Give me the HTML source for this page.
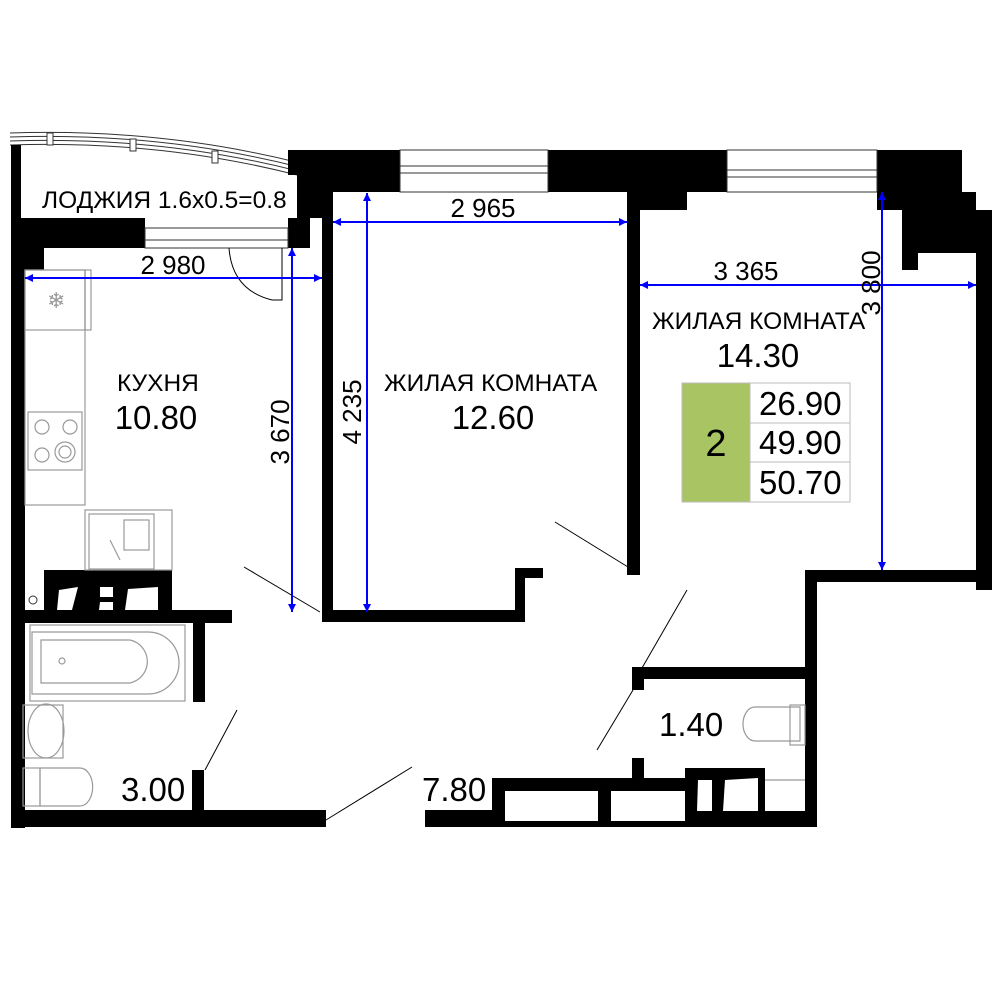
<!DOCTYPE html>
<html><head><meta charset="utf-8"><style>
body{margin:0;background:#fff}
svg{display:block}
text{font-family:"Liberation Sans",sans-serif;fill:#000}
</style></head><body>
<svg width="1000" height="1000" viewBox="0 0 1000 1000" xmlns="http://www.w3.org/2000/svg">
<defs>
<marker id="a" viewBox="0 0 10 10" refX="10" refY="5" markerWidth="14" markerHeight="8" markerUnits="userSpaceOnUse" orient="auto-start-reverse"><path d="M0,0L10,5L0,10z" fill="#00f"/></marker>
</defs>
<g fill="none" stroke="#333" stroke-width="1">
<path d="M10,133 Q160,128 300,163"/>
<path d="M10,137 Q160,132 299,167"/>
<path d="M10,141 Q160,136 298,171"/>
<path d="M10,145 Q160,140 297,175"/>
</g>
<g fill="#fff" stroke="#333" stroke-width="1">
<rect x="47" y="133" width="6" height="12"/><rect x="130" y="139" width="6" height="12"/><rect x="212" y="151" width="6" height="12"/>
</g>
<g fill="#000">
<rect x="11" y="145" width="10" height="80"/>
<rect x="11" y="218" width="134" height="30"/>
<rect x="11" y="248" width="33" height="22"/>
<rect x="11" y="248" width="14" height="580"/>
<rect x="288" y="150" width="42" height="25"/>
<rect x="297" y="175" width="33" height="43"/>
<rect x="288" y="218" width="22" height="30"/>
<rect x="308" y="150" width="92" height="42"/>
<rect x="548" y="150" width="179" height="42"/>
<rect x="627" y="192" width="60" height="18"/>
<rect x="877" y="150" width="85" height="60"/>
<rect x="902" y="192" width="74" height="61"/>
<rect x="902" y="253" width="16" height="17"/>
<rect x="962" y="210" width="30" height="43"/>
<rect x="976" y="210" width="16" height="380"/>
<rect x="322" y="192" width="11" height="430"/>
<rect x="322" y="610" width="203" height="12"/>
<rect x="515" y="568" width="10" height="54"/>
<rect x="515" y="568" width="28" height="10"/>
<rect x="627" y="210" width="13" height="365"/>
<rect x="805" y="570" width="187" height="12"/>
<rect x="805" y="570" width="12" height="257"/>
<rect x="632" y="667" width="180" height="12"/>
<rect x="632" y="667" width="12" height="23"/>
<rect x="632" y="758" width="12" height="20"/>
<rect x="11" y="810" width="315" height="17"/>
<rect x="425" y="810" width="70" height="17"/>
<rect x="492" y="778" width="193" height="13"/>
<rect x="492" y="778" width="13" height="49"/>
<rect x="492" y="821" width="325" height="6"/>
<rect x="598" y="778" width="13" height="49"/>
<rect x="685" y="768" width="80" height="59"/>
<rect x="765" y="811" width="52" height="16"/>
<rect x="44" y="570" width="128" height="40"/>
<rect x="25" y="610" width="207" height="13"/>
<rect x="193" y="623" width="12" height="79"/>
<rect x="192" y="770" width="12" height="45"/>
</g>
<g fill="#fff" stroke="#333" stroke-width="1">
<rect x="400" y="150" width="148" height="42"/>
<line x1="400" y1="166" x2="548" y2="166"/><line x1="400" y1="173" x2="548" y2="173"/>
<rect x="727" y="150" width="150" height="42"/>
<line x1="727" y1="170" x2="877" y2="170"/><line x1="727" y1="177" x2="877" y2="177"/>
<rect x="145" y="228" width="143" height="20"/>
<line x1="145" y1="240" x2="288" y2="240"/>
</g>
<g fill="#fff">
<path d="M59,590 L78,587 L72,610 L57,610z"/><path d="M100,587 L113,587 L113,597 L100,597z"/><path d="M100,602 L113,602 L113,610 L99,610z"/><path d="M128,589 L158,587 L158,610 L125,610z"/>
<path d="M25,570 L44,570 L44,605 L25,610z"/>
<path d="M698,780 L712,780 L712,811 L697,811z"/><path d="M725,780 L758,778 L758,811 L723,811z"/>
</g>
<circle cx="33" cy="600" r="4" fill="none" stroke="#333"/>
<g fill="none" stroke="#999" stroke-width="1.2">
<rect x="25" y="270" width="60" height="235"/>
<rect x="85" y="270" width="6" height="60"/>
<rect x="25" y="270" width="60" height="60"/>
<rect x="28" y="412" width="54" height="58"/>
<rect x="85" y="510" width="87" height="60"/>
<rect x="89" y="514" width="65" height="55"/>
<circle cx="42" cy="427" r="7"/><circle cx="70" cy="427" r="7"/><circle cx="42" cy="455" r="7"/><circle cx="65" cy="452" r="10"/><circle cx="65" cy="452" r="6"/>
<rect x="124" y="520" width="25" height="30"/>
<line x1="110" y1="540" x2="120" y2="560"/>
<rect x="30" y="625" width="155" height="76"/>
<path d="M41,640 H130 A22,22 0 0 1 130,683 H41z"/>
<path d="M32,632 H148 A30,30 0 0 1 148,694 H32z"/>
<circle cx="62" cy="661" r="3"/>
<ellipse cx="46" cy="731" rx="18" ry="27"/>
<rect x="23" y="705" width="40" height="53"/>
<rect x="23" y="768" width="17" height="38"/>
<path d="M40,768 H80 A12,18 0 0 1 80,806 H40z"/>
<path d="M800,707 H755 A12,17 0 0 0 755,741 H800z"/>
<rect x="790" y="705" width="15" height="40"/>
<line x1="765" y1="780" x2="805" y2="780"/>
</g>
<text x="47" y="308" font-size="22" style="fill:#999">❄</text>
<g stroke="#000" stroke-width="1">
<line x1="244" y1="567" x2="320" y2="612"/>
<line x1="555" y1="522" x2="628" y2="567"/>
<line x1="687" y1="590" x2="642" y2="668"/>
<line x1="633" y1="690" x2="597" y2="750"/>
<line x1="205" y1="770" x2="237" y2="710"/>
<line x1="326" y1="820" x2="412" y2="767"/>
<path d="M229,248 Q232,290 272,300 H282 V248" fill="none"/>
</g>
<g stroke="#00f" stroke-width="2" fill="none">
<line x1="25" y1="278" x2="322" y2="278" marker-start="url(#a)" marker-end="url(#a)"/>
<line x1="292" y1="248" x2="292" y2="612" marker-start="url(#a)" marker-end="url(#a)"/>
<line x1="367" y1="193" x2="367" y2="612" marker-start="url(#a)" marker-end="url(#a)"/>
<line x1="333" y1="222" x2="627" y2="222" marker-start="url(#a)" marker-end="url(#a)"/>
<line x1="640" y1="285" x2="976" y2="285" marker-start="url(#a)" marker-end="url(#a)"/>
<line x1="882" y1="192" x2="882" y2="570" marker-start="url(#a)" marker-end="url(#a)"/>
</g>
<g font-size="26">
<text x="173" y="274" text-anchor="middle">2 980</text>
<text x="483" y="217" text-anchor="middle">2 965</text>
<text x="746" y="280" text-anchor="middle">3 365</text>
<text transform="translate(289,432) rotate(-90)" text-anchor="middle">3 670</text>
<text transform="translate(361,412) rotate(-90)" text-anchor="middle">4 235</text>
<text transform="translate(880,283) rotate(-90)" text-anchor="middle">3 800</text>
</g>
<g font-size="24.5">
<text x="42" y="208">ЛОДЖИЯ 1.6x0.5=0.8</text>
<text x="117" y="391">КУХНЯ</text>
<text x="384" y="391">ЖИЛАЯ КОМНАТА</text>
<text x="652" y="329">ЖИЛАЯ КОМНАТА</text>
</g>
<g font-size="33">
<text x="156" y="429" text-anchor="middle">10.80</text>
<text x="493" y="429" text-anchor="middle">12.60</text>
<text x="758" y="367" text-anchor="middle">14.30</text>
<text x="121" y="801">3.00</text>
<text x="659" y="736">1.40</text>
<text x="422" y="801">7.80</text>
</g>
<rect x="682" y="383" width="68" height="119" fill="#a9c462" stroke="#bbb"/>
<g fill="#fff" stroke="#bbb"><rect x="750" y="383" width="100" height="40"/><rect x="750" y="423" width="100" height="39"/><rect x="750" y="462" width="100" height="40"/></g>
<text x="716" y="456" font-size="38" text-anchor="middle">2</text>
<g font-size="33"><text x="759" y="415">26.90</text><text x="759" y="454">49.90</text><text x="759" y="494">50.70</text></g>
</svg>
</body></html>
